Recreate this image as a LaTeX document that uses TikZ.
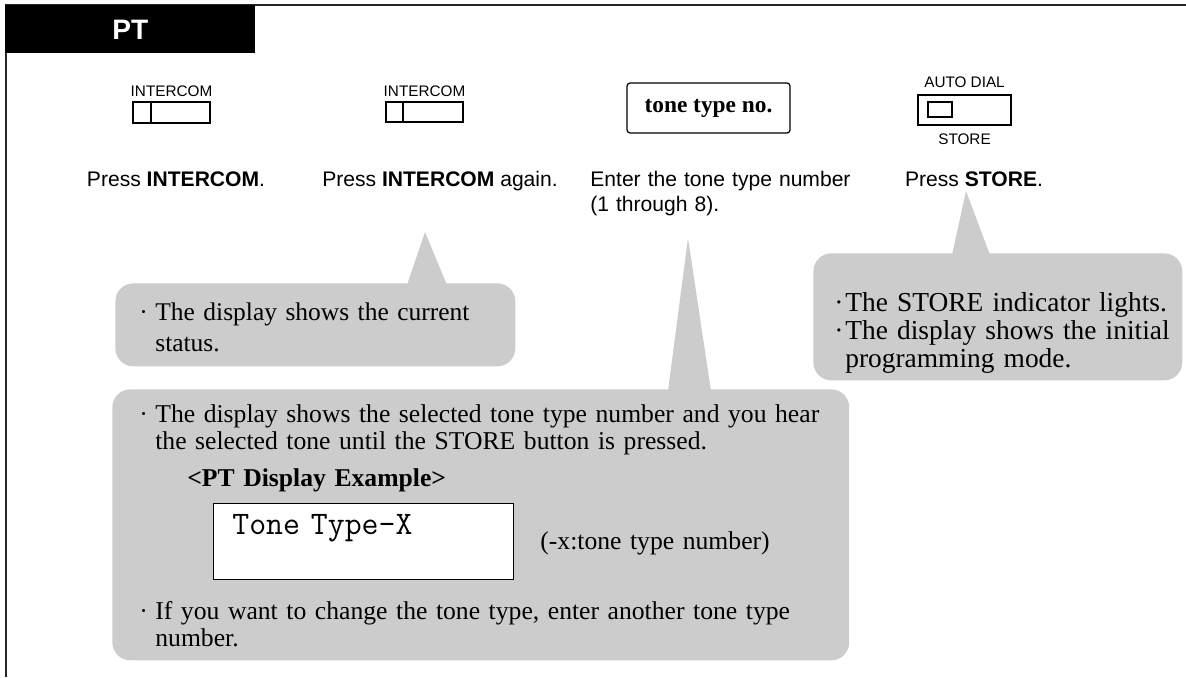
\documentclass[tikz,border=0pt]{standalone}
\usepackage{fontspec}
\setmainfont{Liberation Serif}
\setsansfont{Liberation Sans}
\usetikzlibrary{positioning,calc}
\definecolor{bubblegray}{RGB}{204,204,204}
\newcommand{\fs}[2]{\fontsize{#1}{#2}\selectfont}
\newcommand{\bul}[1]{\makebox[#1][l]{·}}
\tikzset{
  frame/.style={line width=1pt,black!85},
  tab/.style={fill=black,text=white,inner sep=0pt,font=\sffamily\bfseries\fs{16}{19}},
  keycap/.style={draw,line width=0.9pt,inner sep=0pt},
  keylbl/.style={font=\sffamily\fs{8.7}{10},inner sep=0pt},
  steptxt/.style={font=\sffamily\fs{12}{14.5},inner sep=0pt,align=left},
  entry/.style={draw,line width=0.7pt,rounded corners=0.06cm,font=\bfseries\fs{13.3}{16}},
  balloon/.style={fill=bubblegray,rounded corners=0.36cm,inner sep=0pt,anchor=north west},
  tip/.style={fill=bubblegray},
  note/.style={inner sep=0pt,text width=16cm,align=left,anchor=base west},
  lcd/.style={draw,fill=white,line width=0.8pt,inner sep=0pt,anchor=north west},
}
\begin{document}
\begin{tikzpicture}[x=0.02cm,y=-0.02cm]
  \useasboundingbox (0,0) rectangle (1186,677);
  \draw[frame] (1186,5) -- (6,5) -- (6,677);
  \node[tab,minimum width=5cm,minimum height=0.96cm,anchor=north west] (pt) at (5,5) {PT};

  % keys
  \node[keycap,minimum width=1.54cm,minimum height=0.42cm] (ic1) at (171.5,112.5) {};
  \draw[keycap] ([xshift=0.38cm]ic1.north west) -- ([xshift=0.38cm]ic1.south west);
  \node[keylbl,above=0.09cm of ic1] (ic1lbl) {INTERCOM};
  \node[keycap,minimum width=1.54cm,minimum height=0.4cm] (ic2) at (424.5,112) {};
  \draw[keycap] ([xshift=0.36cm]ic2.north west) -- ([xshift=0.36cm]ic2.south west);
  \node[keylbl,above=0.09cm of ic2] (ic2lbl) {INTERCOM};
  \node[entry,minimum width=3.26cm,minimum height=1cm] (ttn) at (708.5,108) {tone type no.};
  \node[keycap,minimum width=1.86cm,minimum height=0.6cm] (ad) at (964.5,110) {};
  \node[keycap,minimum width=0.48cm,minimum height=0.3cm] (adled) at (940,109.5) {};
  \node[keylbl,above=0.13cm of ad] (adlbl) {AUTO DIAL};
  \node[keylbl,below=0.15cm of ad] (stlbl) {STORE};

  % steps
  \node[steptxt,anchor=base] (s1) at (176,186) {Press \textbf{INTERCOM}.};
  \node[steptxt,anchor=base] (s2) at (440,186) {Press \textbf{INTERCOM} again.};
  \node[steptxt,anchor=base west,text width=6cm] (s3) at (590,186) {Enter the tone type number\\(1 through 8).};
  \node[steptxt,anchor=base] (s4) at (974,186) {Press \textbf{STORE}.};

  % balloons
  \node[balloon,minimum width=8cm,minimum height=1.66cm] (c1) at (115,283) {};
  \coordinate (t1) at (425,232);
  \fill[tip] ($(c1.north west)+(292,2)$) -- (t1) -- ($(c1.north west)+(332,2)$) -- cycle;
  \node[note,font=\fs{14.5}{18.2}] (c1txt) at (139,320)
    {\bul{0.32cm}The display shows the current\\\hspace*{0.32cm}status.};

  \node[balloon,minimum width=7.38cm,minimum height=2.54cm] (c2) at (813,253) {};
  \coordinate (t2) at (966,191);
  \fill[tip] ($(c2.north west)+(139,2)$) -- (t2) -- ($(c2.north west)+(177,2)$) -- cycle;
  \node[note,font=\fs{15.6}{16}] (c2txt) at (834,311)
    {\bul{0.22cm}The STORE indicator lights.\\\bul{0.22cm}The display shows the initial\\\hspace*{0.22cm}programming mode.};

  \node[balloon,minimum width=14.74cm,minimum height=5.42cm] (c3) at (112,389) {};
  \coordinate (t3) at (688,238);
  \fill[tip] ($(c3.north west)+(556,2)$) -- (t3) -- ($(c3.north west)+(599,2)$) -- cycle;
  \node[note,font=\fs{14.6}{15.4}] (c3txt) at (139,422)
    {\bul{0.32cm}The display shows the selected tone type number and you hear\\\hspace*{0.32cm}the selected tone until the STORE button is pressed.};
  \node[note,font=\bfseries\fs{14.6}{16}] (c3hd) at (187,486) {<PT Display Example>};
  \node[lcd,minimum width=6cm,minimum height=1.52cm] (lcd) at (213,503) {};
  \node[note,font=\ttfamily\fs{18.7}{20}] (lcdtxt) at (232,534) {Tone Type-X};
  \node[note,font=\fs{14.6}{16}] (lcdkey) at (540,549) {(-x:tone type number)};
  \node[note,font=\fs{14.6}{15.9}] (c3end) at (139,619)
    {\bul{0.32cm}If you want to change the tone type, enter another tone type\\\hspace*{0.32cm}number.};
\end{tikzpicture}
\end{document}
